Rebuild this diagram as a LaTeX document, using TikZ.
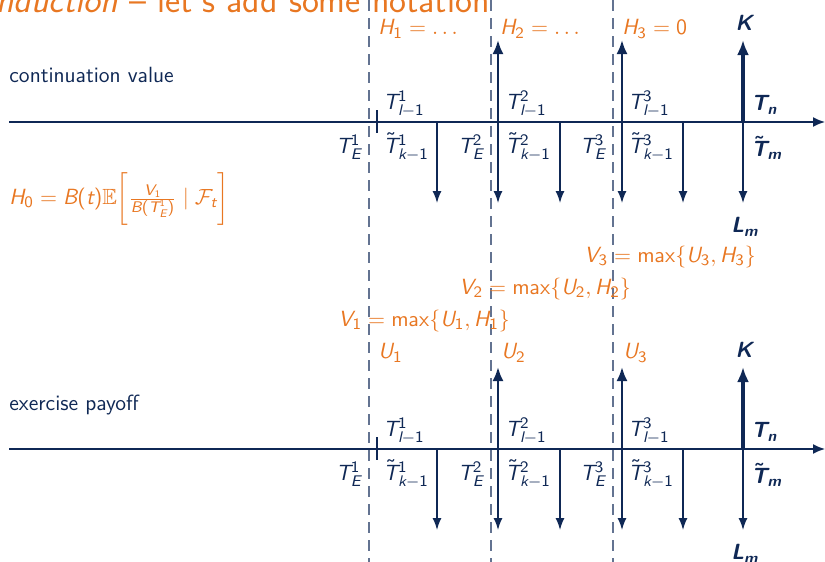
\documentclass[tikz,border=0pt]{standalone}
\usepackage{amsmath,amssymb}
\usetikzlibrary{arrows.meta}
\renewcommand{\familydefault}{\sfdefault}
% sans-serif math, as in beamer
\DeclareSymbolFont{operators}{OT1}{cmss}{m}{n}
\SetSymbolFont{operators}{bold}{OT1}{cmss}{bx}{n}
\DeclareSymbolFont{sfit}{TU}{lmss}{m}{sl}
\SetSymbolFont{sfit}{bold}{TU}{lmss}{bx}{sl}
\newcommand\sfl[1]{\DeclareMathSymbol{#1}{\mathalpha}{sfit}{`#1}}
\sfl a\sfl b\sfl c\sfl d\sfl e\sfl f\sfl g\sfl h\sfl i\sfl j\sfl k\sfl l\sfl m
\sfl n\sfl o\sfl p\sfl q\sfl r\sfl s\sfl t\sfl u\sfl v\sfl w\sfl x\sfl y\sfl z
\sfl A\sfl B\sfl C\sfl D\sfl E\sfl F\sfl G\sfl H\sfl I\sfl J\sfl K\sfl L\sfl M
\sfl N\sfl O\sfl P\sfl Q\sfl R\sfl S\sfl T\sfl U\sfl V\sfl W\sfl X\sfl Y\sfl Z
\definecolor{navy}{RGB}{15,40,85}
\definecolor{ora}{RGB}{232,119,34}
\tikzset{
  axisline/.style={navy, line width=0.8pt, -{Latex[length=6pt,width=5pt]}},
  downarr/.style={navy, line width=0.7pt, -{Latex[length=6pt,width=4.5pt]}},
  uparr/.style={navy, line width=1.2pt, -{Latex[length=7pt,width=5.5pt]}},
  uparrk/.style={navy, line width=1.6pt, -{Latex[length=7.5pt,width=6pt]}},
  vline/.style={navy!65, line width=0.7pt, dash pattern=on 5.5pt off 3.5pt},
  lbl/.style={navy, inner sep=0pt},
  olbl/.style={ora, inner sep=0pt},
}
\begin{document}
\begin{tikzpicture}[x=0.5pt,y=-0.5pt,font=\fontsize{11}{13}\selectfont]
\useasboundingbox (0,0) rectangle (825,562);
% title (cropped at the top)
\node[olbl, anchor=base east, font=\fontsize{18}{20}\selectfont] (title) at (490,12) {\textit{Backward induction} -- let's add some notation};
% dashed vertical lines
\foreach \x/\n in {369/a,491/b,613/c}{
  \coordinate (d\n t) at (\x,0);
  \coordinate (d\n b) at (\x,562);
  \draw[vline] (d\n t) -- (d\n b);
}
% two panels
\foreach \p/\yo in {1/0,2/327}{
  \coordinate (ax\p s) at (9,122+\yo);
  \coordinate (ax\p e) at (825,122+\yo);
  \draw[axisline] (ax\p s) -- (ax\p e);
  % small tick
  \coordinate (tk\p a) at (377,110+\yo);
  \coordinate (tk\p b) at (377,122+\yo);
  \coordinate (tk\p c) at (377,133+\yo);
  \draw[navy, line width=1.2pt] (tk\p a) -- (tk\p b);
  \draw[navy, line width=0.6pt] (tk\p b) -- (tk\p c);
  % down arrows
  \foreach \x [count=\i] in {437,498,560,622,683,743}{
    \coordinate (dn\p-\i s) at (\x,122+\yo);
    \coordinate (dn\p-\i e) at (\x,203+\yo);
    \draw[downarr] (dn\p-\i s) -- (dn\p-\i e);
  }
  % up arrows
  \foreach \x [count=\i] in {498,622}{
    \coordinate (up\p-\i s) at (\x,122+\yo);
    \coordinate (up\p-\i e) at (\x,40+\yo);
    \draw[uparr] (up\p-\i s) -- (up\p-\i e);
  }
  \coordinate (upk\p s) at (743,122+\yo);
  \coordinate (upk\p e) at (743,40+\yo);
  \draw[uparrk] (upk\p s) -- (upk\p e);
  % labels above axis
  \node[lbl, anchor=west] (tl\p-1) at (383,104+\yo) {$T^1_{l-1}$};
  \node[lbl, anchor=west] (tl\p-2) at (505,104+\yo) {$T^2_{l-1}$};
  \node[lbl, anchor=west] (tl\p-3) at (628,104+\yo) {$T^3_{l-1}$};
  \node[lbl, anchor=west] (tn\p) at (751,105+\yo) {$\boldsymbol{T_n}$};
  % labels below axis
  \node[lbl, anchor=east] (te\p-1) at (362,147+\yo) {$T^1_E$};
  \node[lbl, anchor=east] (te\p-2) at (484,147+\yo) {$T^2_E$};
  \node[lbl, anchor=east] (te\p-3) at (606,147+\yo) {$T^3_E$};
  \node[lbl, anchor=west] (tk\p-1) at (383,147+\yo) {$\tilde T^1_{k-1}$};
  \node[lbl, anchor=west] (tk\p-2) at (505,147+\yo) {$\tilde T^2_{k-1}$};
  \node[lbl, anchor=west] (tk\p-3) at (628,147+\yo) {$\tilde T^3_{k-1}$};
  \node[lbl, anchor=west] (tm\p) at (751,148+\yo) {$\boldsymbol{\tilde T_m}$};
  \node[lbl] (lm\p) at (745,227+\yo) {$\boldsymbol{L_m}$};
  \node[lbl] (k\p) at (744,23+\yo) {$\boldsymbol{K}$};
}
% panel texts
\node[lbl, anchor=base west] (cv) at (9,83) {continuation value};
\node[lbl, anchor=base west] (ep) at (9,410) {exercise payoff};
% orange labels top panel
\node[olbl, anchor=west] (h1) at (378,29) {$H_1 = \dots$};
\node[olbl, anchor=west] (h2) at (500,29) {$H_2 = \dots$};
\node[olbl, anchor=west] (h3) at (622,29) {$H_3 = 0$};
% orange labels bottom panel
\node[olbl, anchor=west] (u1) at (378,353) {$U_1$};
\node[olbl, anchor=west] (u2) at (501,353) {$U_2$};
\node[olbl, anchor=west] (u3) at (623,353) {$U_3$};
% H0
\node[olbl, anchor=west] (h0) at (9,199) {$H_0 = B(t)\mathbb{E}\biggl[\frac{V_1}{B(T_E^1)} \mid \mathcal{F}_t\biggr]$};
% V equations
\node[olbl, anchor=west] (v3) at (584,257) {$V_3 = \max\{U_3, H_3\}$};
\node[olbl, anchor=west] (v2) at (459,289) {$V_2 = \max\{U_2, H_2\}$};
\node[olbl, anchor=west] (v1) at (338,321) {$V_1 = \max\{U_1, H_1\}$};
\end{tikzpicture}
\end{document}
